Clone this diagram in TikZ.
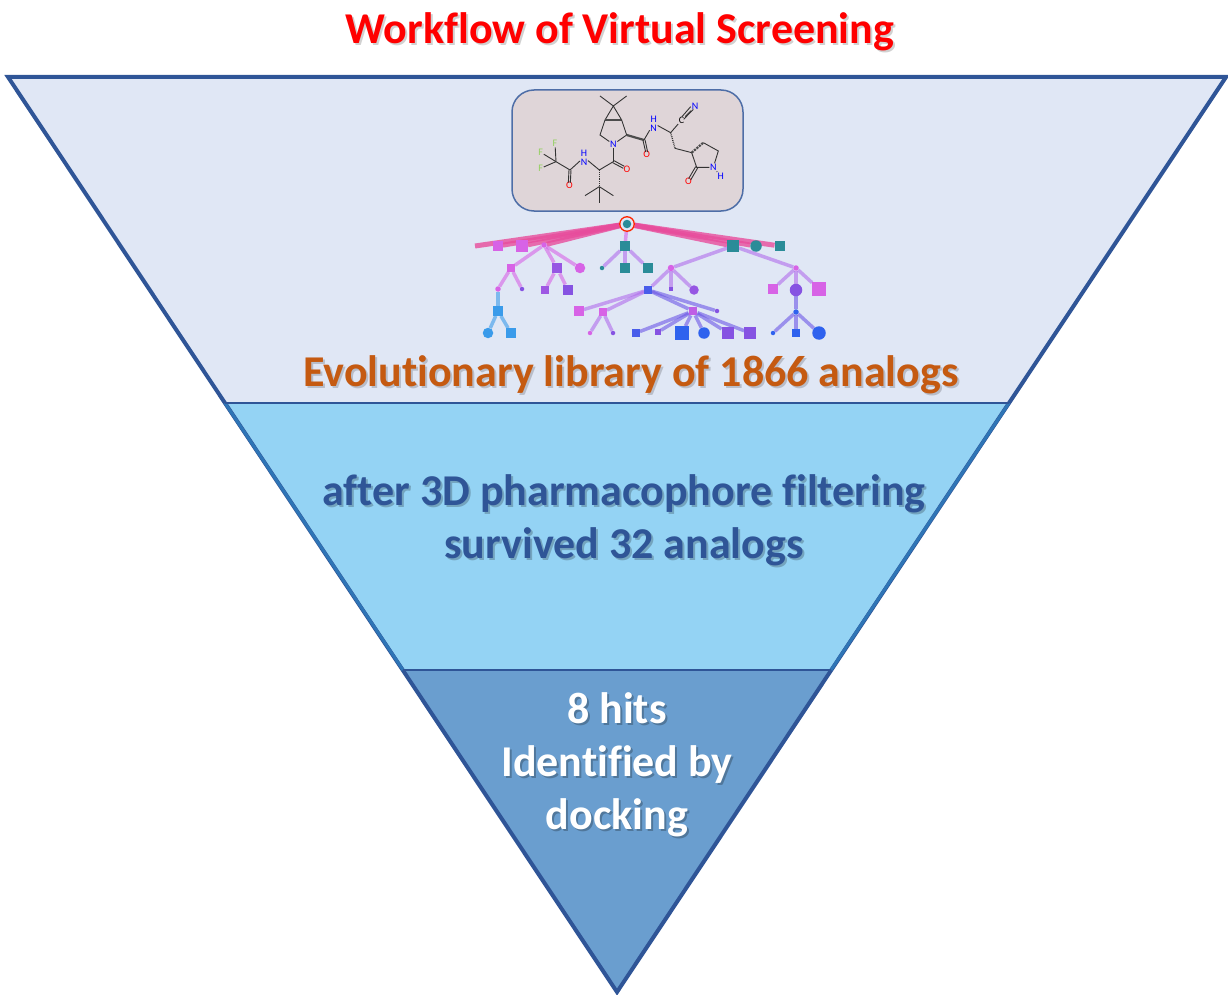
\documentclass[tikz,border=0pt]{standalone}
\usepackage{fontspec}
\setmainfont[RawFeature={-liga}]{Carlito}
\usepackage{tikz}
\usetikzlibrary{calc}
\definecolor{fnNavy}{HTML}{2F5597}
\definecolor{fnEdge}{HTML}{2E75B6}
\definecolor{fnTop}{HTML}{E0E7F5}
\definecolor{fnMid}{HTML}{94D3F4}
\definecolor{fnLow}{HTML}{6A9ECF}
\definecolor{molBg}{HTML}{DFD5D8}
\definecolor{molGreen}{HTML}{93CF5F}
\definecolor{libOrange}{HTML}{C55A11}
\definecolor{trTeal}{HTML}{2A8C98}
\definecolor{trRose}{HTML}{E84C9C}
\definecolor{trPink}{HTML}{D763E6}
\definecolor{trMauve}{HTML}{B16CEC}
\definecolor{trViolet}{HTML}{8653E2}
\definecolor{trBlue}{HTML}{2F62EE}
\definecolor{trSky}{HTML}{3A9BEA}
\pgfdeclarelayer{treetop}
\pgfsetlayers{main,treetop}
% one line of text with its soft offset shadow
\newcommand{\cast}[2]{\leavevmode\rlap{\kern2pt\raisebox{-2pt}{\textcolor{#1}{#2}}}#2}
\begin{document}
\begin{tikzpicture}[x=1pt, y=-1pt,
  headtxt/.style={font=\bfseries\fontsize{44}{53}\selectfont, align=center, inner sep=0pt},
  sep/.style={draw=fnNavy, line width=2pt},
  sq/.style={rectangle, inner sep=0pt, minimum size=#1+1.5pt},
  rd/.style={circle, inner sep=0pt, minimum size=#1+1.5pt},
  link/.style={line width=3.5pt, opacity=0.6, draw=trMauve},
  wedge/.style={line width=5pt, opacity=0.8, draw=trRose},
  bond/.style={line width=0.9pt, draw=black!80},
  heavy/.style={line width=2.2pt, draw=black!70},
  atom/.style={font=\fontsize{10}{10}\selectfont, inner sep=0.6pt},
]
  \useasboundingbox (0,0) rectangle (1228,995);

  \coordinate (apexL) at (8,77);
  \coordinate (apexR) at (1226,77);
  \coordinate (tip) at (617,992);
  \coordinate (upL) at (225,403);
  \coordinate (upR) at (1009,403);
  \coordinate (lowL) at (403,670);
  \coordinate (lowR) at (831,670);

  % the three bands
  \fill[fnTop] (apexL) -- (apexR) -- (upR) -- (upL) -- cycle;
  \fill[fnMid] (upL) -- (upR) -- (lowR) -- (lowL) -- cycle;
  \fill[fnLow] (lowL) -- (lowR) -- (tip) -- cycle;
  \draw[draw=fnNavy, line width=4pt, line join=miter] (apexL) -- (apexR) -- (tip) -- cycle;
  \draw[draw=fnEdge, line width=3pt] (upL) -- (lowL);
  \draw[draw=fnEdge, line width=3pt] (upR) -- (lowR);
  \draw[sep] (upL) -- (upR);
  \draw[sep] (lowL) -- (lowR);

  \node[headtxt, text=red] (title) at (620,33) {\cast{black!18}{Workflow of Virtual Screening}};
  \node[headtxt, text=libOrange] (lib) at (631,376) {\cast{fnTop!82!black}{Evolutionary library of 1866 analogs}};
  \node[headtxt, text=fnNavy] (filter) at (624,521) {\cast{fnMid!78!black}{after 3D pharmacophore filtering}\\\cast{fnMid!78!black}{survived 32 analogs}};
  \node[headtxt, text=white] (hits) at (617,766) {\cast{fnLow!75!black}{8 hits}\\\cast{fnLow!75!black}{Identified by}\\\cast{fnLow!75!black}{docking}};

  % molecule
  \node[draw=fnNavy!85, line width=1.5pt, fill=molBg, rounded corners=22pt, minimum width=231pt, minimum height=121pt] (mol) at (627.5,150.5) {};
  \begin{scope}[shift={(500pt,-80pt)}, x=0.3333pt, y=-0.3333pt]
    \coordinate (m1) at (300,48);
    \coordinate (m2) at (380,48);
    \coordinate (m3) at (340,78);
    \coordinate (m4) at (315,120);
    \coordinate (m5) at (365,120);
    \coordinate (m6) at (300,165);
    \node[atom, text=blue] (nA) at (340,193) {N};
    \coordinate (m7) at (380,165);
    \coordinate (m8) at (432,180);
    \node[atom, text=red] (oA) at (440,224) {O};
    \node[atom, text=blue, align=center] (nB) at (461,130) {H\\[-1pt]N};
    \coordinate (m9) at (512,158);
    \node[atom] (cN) at (545,120) {C};
    \node[atom, text=blue] (nC) at (585,80) {N};
    \coordinate (m10) at (525,205);
    \coordinate (m11) at (575,218);
    \coordinate (m12) at (610,188);
    \coordinate (m13) at (655,213);
    \node[atom, text=blue] (nD) at (640,262) {N};
    \node[atom, text=blue] (hD) at (662,288) {H};
    \coordinate (m14) at (590,262);
    \node[atom, text=red] (oB) at (565,305) {O};
    \coordinate (m15) at (340,245);
    \node[atom, text=red] (oC) at (381,267) {O};
    \coordinate (m16) at (298,270);
    \node[atom, text=blue, align=center] (nE) at (252,232) {H\\[-1pt]N};
    \coordinate (m17) at (210,270);
    \node[atom, text=red] (oD) at (208,317) {O};
    \coordinate (m18) at (168,245);
    \node[atom, text=molGreen] (fA) at (165,190) {F};
    \node[atom, text=molGreen] (fB) at (122,217) {F};
    \node[atom, text=molGreen] (fC) at (122,265) {F};
    \coordinate (m19) at (298,320);
    \coordinate (m20) at (255,347);
    \coordinate (m21) at (340,347);
    \coordinate (m22) at (298,370);

    \draw[bond] (m1) -- (m3) -- (m2);
    \draw[bond] (m4) -- (m3) -- (m5);
    \draw[heavy] (m4) -- (m5);
    \draw[bond] (m4) -- (m6) -- (nA) -- (m7) -- (m5);
    \draw[heavy] (m7) -- (m8);
    \draw[bond] (m8) -- (nB) -- (m9) -- (cN);
    \draw[bond] ($(m8)+(-3,1)$) -- ($(oA)+(-3,-8)$);
    \draw[bond] ($(m8)+(3,-1)$) -- ($(oA)+(3,-8)$);
    \draw[bond] (cN) -- (nC);
    \draw[bond] ($(cN)+(6,-2)$) -- ($(nC)+(-5,8)$);
    \draw[bond] ($(cN)+(1,-10)$) -- ($(nC)+(-13,0)$);
    \draw[bond, densely dotted, line width=1.4pt] (m9) -- (m10);
    \draw[bond] (m10) -- (m11) -- (m14) -- (nD) -- (m13) -- (m12);
    \draw[heavy, densely dotted] (m11) -- (m12);
    \draw[bond] (nD) -- (hD);
    \draw[bond] ($(m14)+(-3,-2)$) -- ($(oB)+(1,-9)$);
    \draw[bond] ($(m14)+(3,2)$) -- ($(oB)+(7,-5)$);
    \draw[bond] (nA) -- (m15);
    \draw[bond] ($(m15)+(2,-3)$) -- ($(oC)+(-8,-8)$);
    \draw[bond] ($(m15)+(-2,3)$) -- ($(oC)+(-11,-2)$);
    \draw[bond] (m15) -- (m16) -- (nE) -- (m17);
    \draw[bond] ($(m17)+(-3,0)$) -- ($(oD)+(-3,-9)$);
    \draw[bond] ($(m17)+(3,0)$) -- ($(oD)+(3,-9)$);
    \draw[bond] (m17) -- (m18);
    \draw[bond] (m18) -- (fA);
    \draw[bond] (m18) -- (fB);
    \draw[bond] (m18) -- (fC);
    \draw[bond, densely dotted, line width=1.4pt] (m16) -- (m19);
    \draw[bond] (m19) -- (m20);
    \draw[bond] (m19) -- (m21);
    \draw[bond] (m19) -- (m22);
  \end{scope}

  % tree nodes
  \begin{pgfonlayer}{treetop}
  \node[rd=13pt, fill=fnTop, draw=red!70!orange, line width=1.3pt] (root) at (627,224) {};
  \node[rd=7pt, fill=trTeal] (rootcore) at (root) {};
  \coordinate (farL) at (475,246);
  \node[sq=8pt, fill=trPink] (a1) at (498,246) {};
  \node[sq=10pt, fill=trPink] (a2) at (522,246) {};
  \node[rd=4pt, fill=trPink] (a3) at (544,245) {};
  \node[sq=8pt, fill=trTeal] (a4) at (625,246) {};
  \node[sq=10pt, fill=trTeal] (a5) at (733,246) {};
  \node[rd=10pt, fill=trTeal] (a6) at (756,246) {};
  \node[sq=9pt, fill=trTeal] (a7) at (780,246) {};
  \node[sq=6pt, fill=trPink] (b1) at (511,268) {};
  \node[sq=9pt, fill=trViolet!80!trPink] (b2) at (557,268) {};
  \node[rd=9pt, fill=trPink] (b3) at (580,268) {};
  \node[rd=3pt, fill=trTeal] (b4) at (602,268) {};
  \node[sq=8pt, fill=trTeal] (b5) at (625,268) {};
  \node[sq=8pt, fill=trTeal] (b6) at (648,268) {};
  \node[rd=5pt, fill=trPink] (b7) at (671,268) {};
  \node[rd=4pt, fill=trPink] (b8) at (796,268) {};
  \node[rd=4pt, fill=trPink] (c1) at (498,289) {};
  \node[rd=3pt, fill=trViolet] (c2) at (522,289) {};
  \node[sq=6pt, fill=trViolet!70!trPink] (c3) at (545,290) {};
  \node[sq=9pt, fill=trViolet] (c4) at (568,290) {};
  \node[sq=6pt, fill=trBlue!70!trViolet] (c5) at (648,290) {};
  \node[sq=3pt, fill=trViolet] (c6) at (671,289) {};
  \node[rd=8pt, fill=trViolet!80!trPink] (c7) at (694,290) {};
  \node[sq=8pt, fill=trPink] (c8) at (773,289) {};
  \node[rd=11pt, fill=trViolet] (c9) at (796,290) {};
  \node[sq=12pt, fill=trPink] (c10) at (819,289) {};
  \node[sq=8pt, fill=trSky] (d1) at (498,311) {};
  \node[sq=8pt, fill=trPink] (d2) at (579,311) {};
  \node[sq=6pt, fill=trPink] (d3) at (603,312) {};
  \node[sq=7pt, fill=trPink!70!trViolet] (d4) at (693,311) {};
  \node[rd=3pt, fill=trViolet] (d5) at (717,311) {};
  \node[rd=4pt, fill=trBlue] (d6) at (796,312) {};
  \node[rd=9pt, fill=trSky] (e1) at (488,333) {};
  \node[sq=8pt, fill=trSky] (e2) at (511,333) {};
  \node[rd=3pt, fill=trPink] (e3) at (590,333) {};
  \node[rd=3pt, fill=trViolet] (e4) at (613,333) {};
  \node[sq=6pt, fill=trBlue!70!trViolet] (e5) at (636,333) {};
  \node[sq=4pt, fill=trViolet] (e6) at (658,332) {};
  \node[sq=12pt, fill=trBlue] (e7) at (682,333) {};
  \node[rd=10pt, fill=trBlue] (e8) at (704,333) {};
  \node[sq=11pt, fill=trViolet] (e9) at (728,333) {};
  \node[sq=10pt, fill=trViolet] (e10) at (750,333) {};
  \node[rd=3pt, fill=trBlue] (e11) at (773,333) {};
  \node[sq=7pt, fill=trBlue] (e12) at (796,333) {};
  \node[rd=12pt, fill=trBlue] (e13) at (819,333) {};
  \end{pgfonlayer}

  % tree links
  \foreach \kid in {farL,a1,a2,a3,a5,a6,a7}
    \draw[wedge] (root) -- (\kid);
  \draw[link, draw=trPink] (root) -- (a4);
  \foreach \up/\kid in {a3/b1,a3/b2,a3/b3,b1/c1,b1/c2,b2/c3,b2/c4}
    \draw[link, draw=trPink] (\up) -- (\kid);
  \foreach \up/\kid in {a4/b4,a4/b5,a4/b6,a5/b7,a5/b8,b7/c5,b7/c6,b7/c7,b8/c8,b8/c9,b8/c10}
    \draw[link] (\up) -- (\kid);
  \foreach \up/\kid in {c1/d1,d1/e1,d1/e2}
    \draw[link, draw=trSky] (\up) -- (\kid);
  \foreach \up/\kid in {c5/d2,c5/d3,d3/e3,d3/e4}
    \draw[link] (\up) -- (\kid);
  \foreach \up/\kid in {c5/d4,c5/d5,c9/d6,d6/e11,d6/e12,d6/e13,d4/e5,d4/e6,d4/e7,d4/e8,d4/e9,d4/e10}
    \draw[link, draw=trViolet!70!trBlue] (\up) -- (\kid);
\end{tikzpicture}
\end{document}
